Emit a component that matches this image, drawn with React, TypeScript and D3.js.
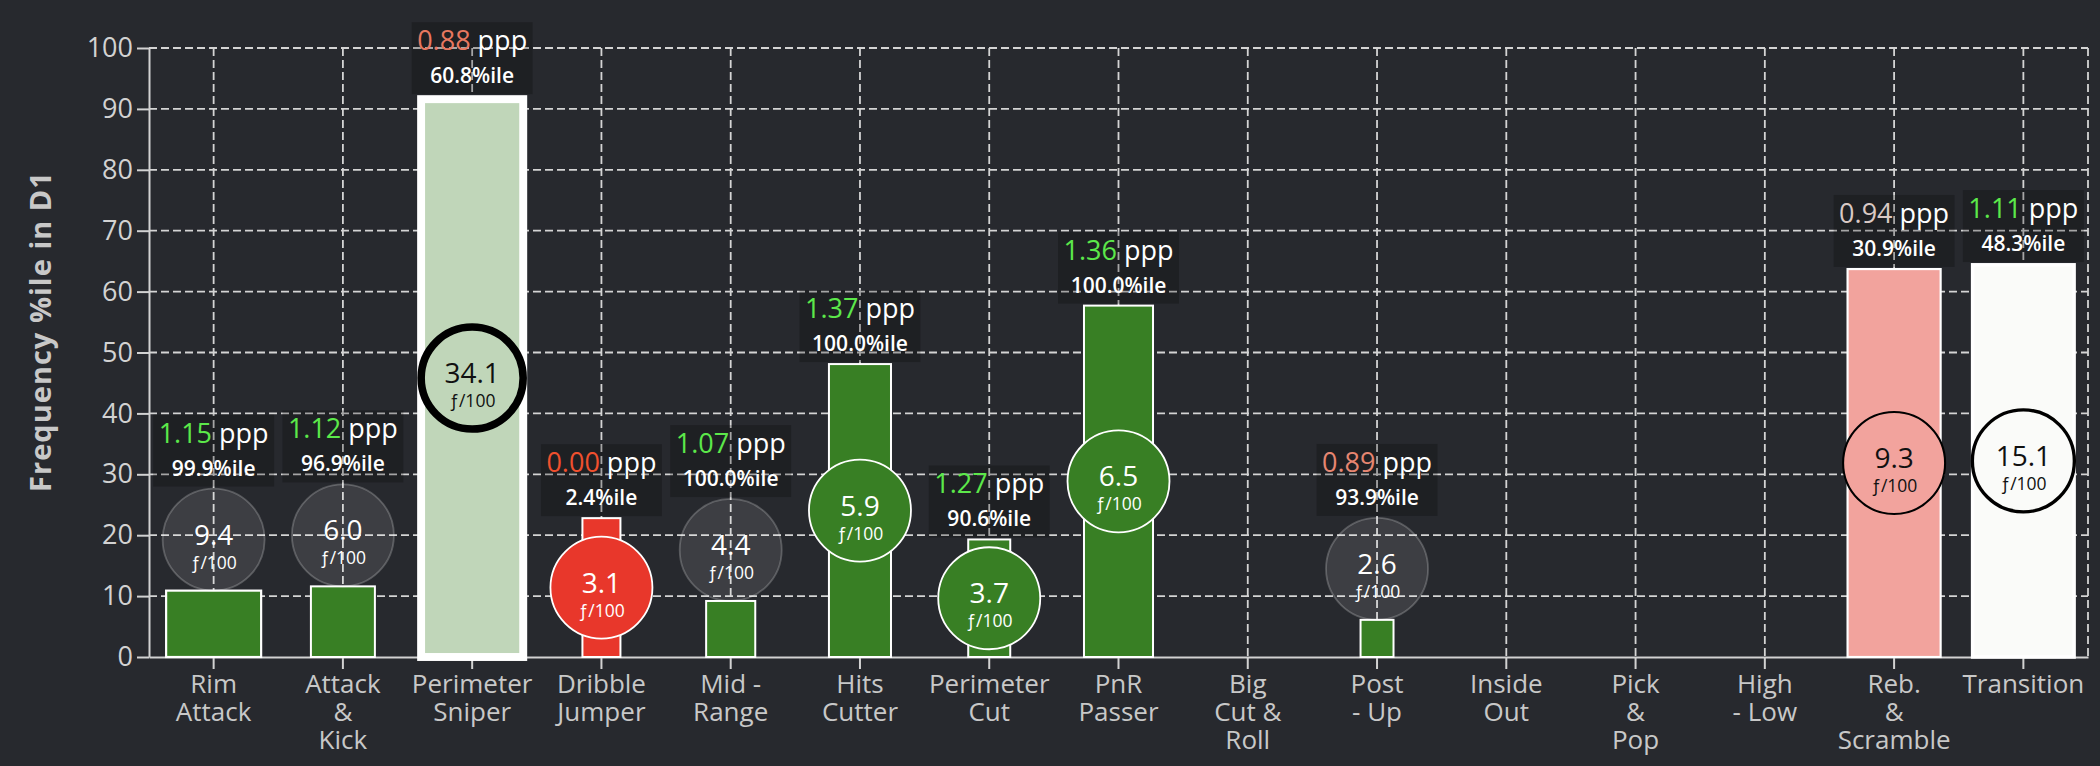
import { useRef, useEffect } from 'react';
import * as d3 from 'd3';

// play types, one entry per band (\n = line break in the axis label)
const categories = [
  'Rim\nAttack',
  'Attack\n&\nKick',
  'Perimeter\nSniper',
  'Dribble\nJumper',
  'Mid -\nRange',
  'Hits\nCutter',
  'Perimeter\nCut',
  'PnR\nPasser',
  'Big\nCut &\nRoll',
  'Post\n- Up',
  'Inside\nOut',
  'Pick\n&\nPop',
  'High\n- Low',
  'Reb.\n&\nScramble',
  'Transition',
];

// bar height: frequency percentile in D1
const freqPct = [10.9, 11.6, 91.6, 22.8, 9.2, 48.1, 19.3, 57.7, null, 6.1, null, null, null, 63.7, 64.4];
// frequency per 100 possessions (circle value)
const freqPer100 = [9.4, 6.0, 34.1, 3.1, 4.4, 5.9, 3.7, 6.5, null, 2.6, null, null, null, 9.3, 15.1];
// points per possession and its percentile
const ppp = [1.15, 1.12, 0.88, 0.0, 1.07, 1.37, 1.27, 1.36, null, 0.89, null, null, null, 0.94, 1.11];
const pppPct = [99.9, 96.9, 60.8, 2.4, 100.0, 100.0, 90.6, 100.0, null, 93.9, null, null, null, 30.9, 48.3];
// relative bar width (share of the band)
const widthShare = [0.735, 0.495, 0.79, 0.294, 0.38, 0.48, 0.325, 0.534, null, 0.255, null, null, null, 0.72, 0.785];

const yTicks = [0, 10, 20, 30, 40, 50, 60, 70, 80, 90, 100];

const W = 2100;
const H = 766;
const FONT = '"Open Sans", "Noto Sans", sans-serif';

export default function App() {
  const svgRef = useRef<SVGSVGElement>(null);

  useEffect(() => {
    if (!svgRef.current) return;
    const svg = d3.select(svgRef.current);
    svg.selectAll('*').remove();
    svg.attr('width', W).attr('height', H);

    const margin = { top: 48, right: 12, bottom: 109, left: 149 };

    svg.append('rect').attr('width', W).attr('height', H).attr('fill', '#27292e');

    const x = d3
      .scaleBand<string>()
      .domain(categories)
      .range([margin.left, W - margin.right])
      .paddingInner(0)
      .paddingOuter(0);
    const y = d3.scaleLinear().domain([0, 100]).range([H - margin.bottom, margin.top]);

    const fillScale = d3
      .scaleLinear<string>()
      .domain([10, 48, 90])
      .range(['#e8372b', '#fbfcfb', '#387f24'])
      .interpolate(d3.interpolateRgb)
      .clamp(true);
    const pppColor = d3
      .scaleLinear<string>()
      .domain([0.85, 0.95, 1.05])
      .range(['#f0502e', '#d6d6d6', '#5ce84a'])
      .interpolate(d3.interpolateRgb)
      .clamp(true);

    const x0 = margin.left;
    const x1 = W - margin.right;
    const yBase = y(0);

    // grid
    const grid = svg
      .append('g')
      .attr('stroke', '#d4d4d4')
      .attr('stroke-width', 1.8)
      .attr('stroke-dasharray', '8,4');
    grid
      .selectAll('.hg')
      .data(yTicks.filter((t) => t > 0))
      .join('line')
      .attr('x1', x0)
      .attr('x2', x1)
      .attr('y1', (d) => y(d))
      .attr('y2', (d) => y(d));
    grid
      .selectAll('.vg')
      .data(categories)
      .join('line')
      .attr('x1', (d) => (x(d) || 0) + x.bandwidth() / 2)
      .attr('x2', (d) => (x(d) || 0) + x.bandwidth() / 2)
      .attr('y1', y(100))
      .attr('y2', yBase);
    grid.append('line').attr('x1', x1).attr('x2', x1).attr('y1', y(100)).attr('y2', yBase);

    // axes
    const axisColor = '#d2d2d2';
    const yAxis = svg
      .append('g')
      .attr('transform', `translate(${x0},0)`)
      .call(d3.axisLeft(y).tickValues(yTicks).tickSize(12).tickSizeOuter(0).tickPadding(4));
    yAxis.select('.domain').attr('stroke', axisColor).attr('stroke-width', 2);
    yAxis.selectAll('.tick line').attr('stroke', axisColor).attr('stroke-width', 2);
    yAxis
      .selectAll('.tick text')
      .attr('fill', axisColor)
      .attr('font-size', 27)
      .attr('font-family', FONT);

    const xAxis = svg
      .append('g')
      .attr('transform', `translate(0,${yBase})`)
      .call(d3.axisBottom(x).tickSize(12).tickSizeOuter(0));
    xAxis.select('.domain').attr('stroke', axisColor).attr('stroke-width', 2);
    xAxis.selectAll('.tick line').attr('stroke', axisColor).attr('stroke-width', 2);
    xAxis.selectAll('.tick text').remove();
    xAxis
      .selectAll('.tick')
      .append('text')
      .attr('fill', '#c8c8c8')
      .attr('font-size', 26)
      .attr('font-family', FONT)
      .attr('text-anchor', 'middle')
      .selectAll('tspan')
      .data((d) => String(d).split('\n'))
      .join('tspan')
      .attr('x', 0)
      .attr('y', (_d, i) => 36 + i * 28)
      .text((d) => d);

    // y title
    svg
      .append('text')
      .attr('transform', `translate(41,${(y(0) + y(100)) / 2 - 21}) rotate(-90)`)
      .attr('text-anchor', 'middle')
      .attr('dy', '0.35em')
      .attr('fill', '#c8c8c8')
      .attr('font-size', 29)
      .attr('font-weight', 700)
      .attr('letter-spacing', 1)
      .attr('font-family', FONT)
      .text('Frequency %ile in D1');

    // marks
    const r = 51;
    const rows = categories
      .map((c, i) => ({
        c,
        freq: freqPct[i],
        f: freqPer100[i],
        ppp: ppp[i],
        pct: pppPct[i],
        w: widthShare[i],
      }))
      .filter((d) => d.freq !== null)
      .map((d) => {
        const cx = (x(d.c) || 0) + x.bandwidth() / 2;
        const top = y(d.freq as number);
        const bw = x.bandwidth() * (d.w as number);
        const fill = fillScale(d.pct as number);
        const light = d3.hsl(fill).l > 0.65;
        const barSw = Math.max(2, (d.f as number) / 4.3);
        const circSw = Math.max(1.8, (d.f as number) / 4.5);
        const fits = yBase - top >= 2 * r + 8;
        const cy = fits ? (top + yBase) / 2 : top - r;
        const edge = fits ? top - barSw / 2 : cy - r - circSw / 2;
        return { ...d, cx, top, bw, fill, light, barSw, circSw, fits, cy, edge };
      });

    const g = svg.append('g');

    g.selectAll('.bar')
      .data(rows)
      .join('rect')
      .attr('x', (d) => d.cx - d.bw / 2)
      .attr('width', (d) => d.bw)
      .attr('y', (d) => d.top)
      .attr('height', (d) => yBase - d.top)
      .attr('fill', (d) => d.fill)
      .attr('stroke', '#ffffff')
      .attr('stroke-width', (d) => d.barSw);

    const bubbles = g
      .selectAll('.bubble')
      .data(rows)
      .join('g')
      .attr('transform', (d) => `translate(${d.cx},${d.cy})`);
    bubbles
      .append('circle')
      .attr('r', r)
      .attr('fill', (d) => (d.fits ? d.fill : 'rgba(255,255,255,0.1)'))
      .attr('stroke', (d) => (!d.fits ? 'rgba(255,255,255,0.22)' : d.light ? '#000000' : '#ffffff'))
      .attr('stroke-width', (d) => (d.fits ? d.circSw : 1.8));
    const txtColor = (d: { fits: boolean; light: boolean }) => (d.fits && d.light ? '#111111' : '#ffffff');
    bubbles
      .append('text')
      .attr('text-anchor', 'middle')
      .attr('y', 5)
      .attr('fill', txtColor)
      .attr('font-size', 28)
      .attr('font-weight', 500)
      .attr('font-family', FONT)
      .text((d) => (d.f as number).toFixed(1));
    bubbles
      .append('text')
      .attr('text-anchor', 'middle')
      .attr('y', 29)
      .attr('fill', txtColor)
      .attr('font-size', 17.5)
      .attr('font-family', FONT)
      .text('ƒ/100');

    // ppp label boxes
    const boxW = 121;
    const boxH = 72;
    const boxes = g
      .selectAll('.box')
      .data(rows)
      .join('g')
      .attr('transform', (d) => `translate(${d.cx},${d.edge - 1 - boxH})`);
    boxes
      .append('rect')
      .attr('x', -boxW / 2)
      .attr('width', boxW)
      .attr('height', boxH)
      .attr('fill', 'rgba(0,0,0,0.22)');
    const line1 = boxes
      .append('text')
      .attr('text-anchor', 'middle')
      .attr('y', 28)
      .attr('font-size', 27)
      .attr('font-family', FONT);
    line1
      .append('tspan')
      .attr('fill', (d) => pppColor(d.ppp as number))
      .text((d) => (d.ppp as number).toFixed(2));
    line1.append('tspan').attr('fill', '#ffffff').text('\u00a0ppp');
    boxes
      .append('text')
      .attr('text-anchor', 'middle')
      .attr('y', 61)
      .attr('fill', '#ffffff')
      .attr('font-size', 21)
      .attr('font-weight', 600)
      .attr('font-family', FONT)
      .text((d) => `${(d.pct as number).toFixed(1)}%ile`);
  }, []);

  return (
    <div style={{ position: 'absolute', left: 0, top: 0 }}>
      <svg ref={svgRef} style={{ display: 'block' }} />
    </div>
  );
}
